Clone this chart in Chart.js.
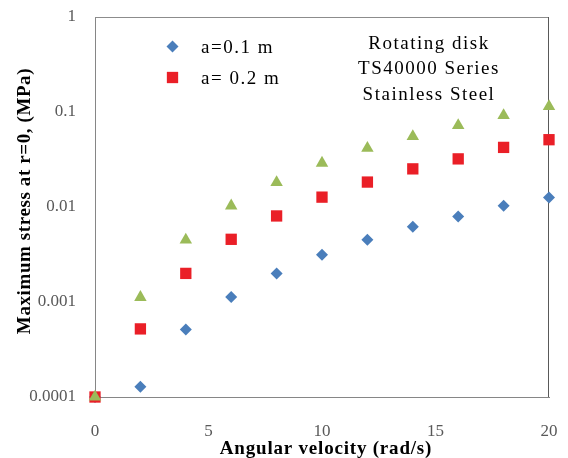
<!DOCTYPE html>
<html>
<head>
<meta charset="utf-8">
<script src="https://cdn.jsdelivr.net/npm/chart.js@4.4.0/dist/chart.umd.min.js"></script>
<style>
  html, body { margin: 0; padding: 0; background: #fff; }
  #wrap { width: 568px; height: 458px; }
</style>
</head>
<body>
<div id="wrap"><canvas id="stressChart" width="568" height="458"></canvas></div>
<script>
// values
const omega = [0, 2, 4, 6, 8, 10, 12, 14, 16, 18, 20];
const stressA01 = [0.0001, 0.000128, 0.000514, 0.00113, 0.002, 0.00315, 0.00453, 0.00621, 0.00793, 0.0103, 0.0126];
const stressA02 = [0.0001, 0.000521, 0.002, 0.00457, 0.00805, 0.0127, 0.0183, 0.0252, 0.0321, 0.0424, 0.0511];
const stressA03 = [0.0001, 0.00112, 0.0045, 0.0103, 0.0181, 0.029, 0.0417, 0.0553, 0.0723, 0.092, 0.1146];
const seriesNames = ["a=0.1 m", "a= 0.2 m", ""];
const yTickValues = [0.0001, 0.001, 0.01, 0.1, 1];
const yTickLabels = ["0.0001", "0.001", "0.01", "0.1", "1"];
const noteLines = ["Rotating disk", "TS40000 Series", "Stainless Steel"];
const xTitle = "Angular velocity (rad/s)";
const yTitle = "Maximum stress at r=0, (MPa)";

const serif = "'Liberation Serif', 'Times New Roman', serif";

function toPoints(ys) {
  return omega.map(function (x, i) { return { x: x, y: ys[i] }; });
}

// box frame, legend, note and axis titles
const framePlugin = {
  id: "frame",
  beforeDatasetsDraw: function (chart) {
    const a = chart.chartArea;
    const ctx = chart.ctx;
    ctx.save();
    ctx.lineWidth = 1;
    ctx.strokeStyle = "#8c8c8c";
    ctx.beginPath();
    ctx.moveTo(a.left, a.top + 0.5);
    ctx.lineTo(a.right, a.top + 0.5);
    ctx.stroke();
    ctx.strokeStyle = "#595959";
    ctx.beginPath();
    ctx.moveTo(a.right - 0.5, a.top);
    ctx.lineTo(a.right - 0.5, a.bottom);
    ctx.stroke();
    ctx.restore();
  },
  afterDraw: function (chart) {
    const ctx = chart.ctx;
    ctx.save();
    // legend (first two series only)
    const legendRows = [46.5, 77.5];
    ctx.letterSpacing = "1.5px";
    for (let i = 0; i < 2; i++) {
      const ds = chart.data.datasets[i];
      ctx.fillStyle = ds.backgroundColor;
      ctx.strokeStyle = ds.backgroundColor;
      Chart.helpers.drawPoint(ctx, { pointStyle: ds.pointStyle, radius: ds.pointRadius, borderWidth: 0 }, 172.5, legendRows[i]);
      ctx.fillStyle = "#000";
      ctx.font = "19px " + serif;
      ctx.textAlign = "left";
      ctx.textBaseline = "middle";
      ctx.fillText(seriesNames[i], 201, legendRows[i] + 1.5);
    }
    // note
    ctx.font = "19px " + serif;
    ctx.textAlign = "center";
    ctx.textBaseline = "middle";
    const noteY = [44.5, 69.5, 95];
    noteLines.forEach(function (t, i) { ctx.fillText(t, 429, noteY[i]); });

    // axis titles
    ctx.font = "bold 19px " + serif;
    ctx.letterSpacing = "0.8px";
    ctx.fillText(xTitle, 326, 449);
    ctx.translate(25, 201);
    ctx.rotate(-Math.PI / 2);
    ctx.letterSpacing = "0.6px";
    ctx.fillText(yTitle, 0, 0);
    ctx.restore();
  }
};

const ctx = document.getElementById("stressChart");
const stressChart = new Chart(ctx, {
  type: "scatter",
  data: {
    datasets: [
      {
        label: seriesNames[0],
        data: toPoints(stressA01),
        pointStyle: "rectRot",
        pointRadius: 6,
        backgroundColor: "#4a7ebb",
        borderColor: "#4a7ebb",
        borderWidth: 0,
        order: 3,
        clip: false,
      },
      {
        label: seriesNames[1],
        data: toPoints(stressA02),
        pointStyle: "rect",
        pointRadius: 8,
        backgroundColor: "#ea1f27",
        borderColor: "#ea1f27",
        borderWidth: 0,
        order: 2,
        clip: false,
      },
      {
        label: seriesNames[2],
        data: toPoints(stressA03),
        pointStyle: "triangle",
        pointRadius: 7.2,
        backgroundColor: "#9bbb59",
        borderColor: "#9bbb59",
        borderWidth: 0,
        order: 1,
        clip: false,
      },
    ],
  },
  options: {
    responsive: false,
    animation: false,
    layout: { autoPadding: false, padding: { top: 17, right: 19, left: 0, bottom: 0 } },
    plugins: {
      legend: { display: false },
      tooltip: { enabled: false },
    },
    scales: {
      x: {
        type: "linear",
        min: 0,
        max: 20,
        grid: { display: false, drawTicks: false },
        border: { display: true, color: "#868686", width: 1 },
        ticks: {
          stepSize: 5,
          padding: 24,
          color: "#595959",
          font: { family: serif, size: 17 },
        },
        title: { display: false },
        afterFit: function (scale) {
          scale.height = 61;
          scale.paddingLeft = 0;
          scale.paddingRight = 0;
        },
      },
      y: {
        type: "logarithmic",
        min: 0.0001,
        max: 1,
        grid: { display: false, drawTicks: false },
        border: { display: true, color: "#868686", width: 1 },
        afterBuildTicks: function (scale) {
          scale.ticks = yTickValues.map(function (v) { return { value: v }; });
        },
        ticks: {
          padding: 19,
          color: "#595959",
          font: { family: serif, size: 17 },
          callback: function (value) {
            const idx = yTickValues.findIndex(function (v) { return Math.abs(v - value) < v * 1e-6; });
            return idx >= 0 ? yTickLabels[idx] : "";
          },
        },
        title: { display: false },
        afterFit: function (scale) {
          scale.width = 95;
          scale.paddingTop = 0;
          scale.paddingBottom = 0;
        },
      },
    },
  },
  plugins: [framePlugin],
});
</script>
</body>
</html>
